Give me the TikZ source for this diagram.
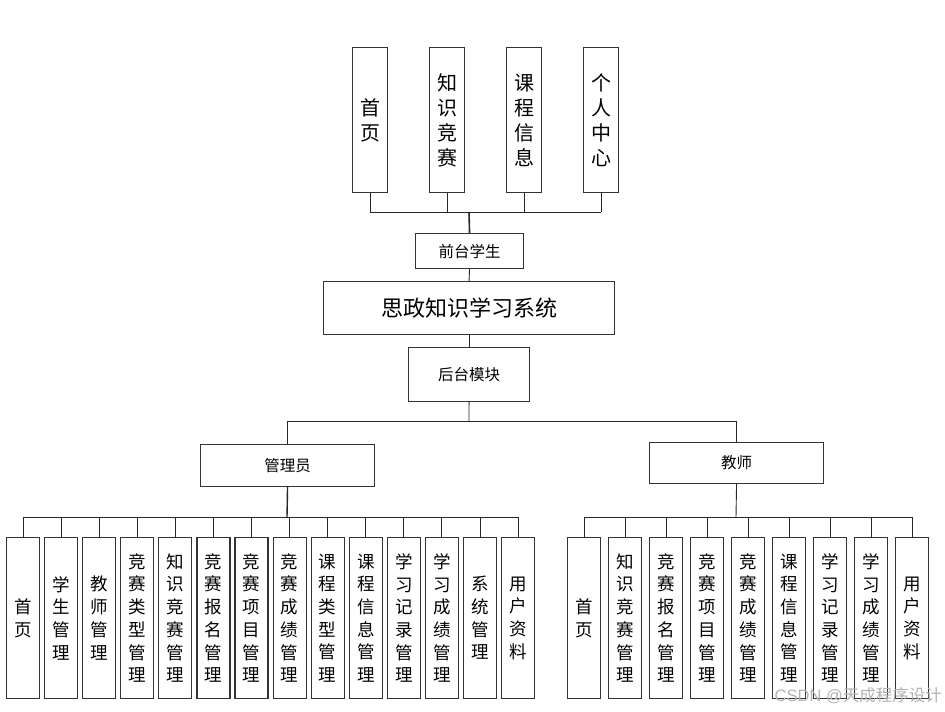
\documentclass[tikz,border=0pt]{standalone}
\usepackage{fontspec}
\setmainfont{Noto Sans CJK SC}
\newfontfamily\wmfont{Liberation Sans}
\begin{document}
\begin{tikzpicture}[x=1pt,y=-1pt,
  box/.style={draw=black!80, line width=1.1pt, fill=white, inner sep=0pt, anchor=north west},
  topleaf/.style={box, minimum width=35pt, minimum height=145pt, align=center, font=\fontsize{20}{25}\selectfont},
  leaf/.style={box, minimum width=33pt, minimum height=161pt, align=center, font=\fontsize{17.5}{22.7}\selectfont},
  conn/.style={draw=black!85, line width=0.9pt}
]
\useasboundingbox (0,0) rectangle (945,712);

% top boxes
\node[topleaf] (t1) at (352,47) {首\\页};
\node[topleaf] (t2) at (429,47) {知\\识\\竞\\赛};
\node[topleaf] (t3) at (506,47) {课\\程\\信\\息};
\node[topleaf] (t4) at (583,47) {个\\人\\中\\心};

\node[box, minimum width=108pt, minimum height=35pt, font=\fontsize{15.5}{18}\selectfont] (qt) at (415,233) {前台学生};
\node[box, minimum width=291pt, minimum height=53pt, font=\fontsize{22}{26}\selectfont] (sys) at (323,281) {思政知识学习系统};
\node[box, minimum width=121pt, minimum height=54pt, font=\fontsize{15.5}{18}\selectfont] (ht) at (408,347) {后台模块};
\node[box, minimum width=174pt, minimum height=42pt, font=\fontsize{15.5}{18}\selectfont] (adm) at (200,444) {管理员};
\node[box, minimum width=174pt, minimum height=41pt, font=\fontsize{15.5}{18}\selectfont] (tea) at (649,442) {教师};

% top connectors
\coordinate (tj) at (469,212);
\foreach \n in {t1,t2,t3,t4}{
  \draw[conn] (\n.south) -- (\n.south |- tj);
}
\draw[conn] (t1.south |- tj) -- (t4.south |- tj);
\draw[conn, line width=1.6pt] (tj) -- (qt.north);
\draw[conn] (qt.south) -- (sys.north);
\draw[conn] (sys.south) -- (ht.north);
\coordinate (hj) at (469,421);
\draw[conn] (ht.south) -- (hj);
\draw[conn] (adm.north) -- (adm.north |- hj) -- (tea.north |- hj) -- (tea.north);

% admin leaves
\foreach \i/\t in {0/{首\\页},1/{学\\生\\管\\理},2/{教\\师\\管\\理},3/{竞\\赛\\类\\型\\管\\理},4/{知\\识\\竞\\赛\\管\\理},5/{竞\\赛\\报\\名\\管\\理},6/{竞\\赛\\项\\目\\管\\理},7/{竞\\赛\\成\\绩\\管\\理},8/{课\\程\\类\\型\\管\\理},9/{课\\程\\信\\息\\管\\理},10/{学\\习\\记\\录\\管\\理},11/{学\\习\\成\\绩\\管\\理},12/{系\\统\\管\\理},13/{用\\户\\资\\料}}{
  \node[leaf] (a\i) at ({6+38.08*\i},537) {\t};
}
\coordinate (aj) at (287,517);
\draw[conn, line width=1.4pt] (adm.south) -- (aj);
\draw[conn] (a0.north |- aj) -- (a13.north |- aj);
\foreach \i in {0,...,13}{
  \draw[conn] (a\i.north |- aj) -- (a\i.north);
}

% teacher leaves
\foreach \i/\t in {0/{首\\页},1/{知\\识\\竞\\赛\\管\\理},2/{竞\\赛\\报\\名\\管\\理},3/{竞\\赛\\项\\目\\管\\理},4/{竞\\赛\\成\\绩\\管\\理},5/{课\\程\\信\\息\\管\\理},6/{学\\习\\记\\录\\管\\理},7/{学\\习\\成\\绩\\管\\理},8/{用\\户\\资\\料}}{
  \node[leaf] (b\i) at ({567+41*\i},537) {\t};
}
\coordinate (bj) at (736,517);
\draw[conn] (tea.south) -- (bj);
\draw[conn] (b0.north |- bj) -- (b8.north |- bj);
\foreach \i in {0,...,8}{
  \draw[conn] (b\i.north |- bj) -- (b\i.north);
}

% watermark
\node[anchor=east, text=black!30, font=\fontsize{16.5}{18}\selectfont, inner sep=0pt] (wm) at (942,696) {{\wmfont CSDN @}天成程序设计};
\end{tikzpicture}
\end{document}
